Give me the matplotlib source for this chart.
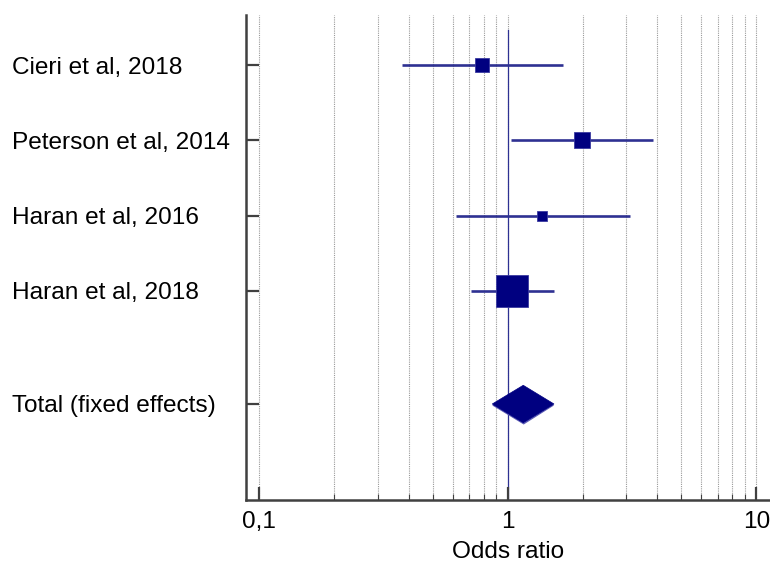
import matplotlib
matplotlib.use("Agg")
import matplotlib.pyplot as plt
import matplotlib.transforms as mtransforms
from matplotlib.patches import Polygon
from matplotlib.ticker import FixedLocator, NullFormatter
import numpy as np

# ---- data ----
studies = ["Cieri et al, 2018", "Peterson et al, 2014", "Haran et al, 2016", "Haran et al, 2018"]
odds_ratio = [0.79, 1.99, 1.37, 1.04]
ci_low = [0.377, 1.034, 0.62, 0.712]
ci_high = [1.67, 3.83, 3.10, 1.54]
weights = [11.3, 15.7, 7.7, 65.3]  # percent weight (marker area)

total_label = "Total (fixed effects)"
total_or = 1.155
total_low = 0.867
total_high = 1.535

xtick_values = [0.1, 1, 10]
xtick_labels = ["0,1", "1", "10"]
xlabel = "Odds ratio"

# ---- style ----
plt.rcParams['font.family'] = ['Liberation Sans', 'DejaVu Sans']
navy = "#000080"
line_col = "#2e3192"
spine_col = "#404040"
fs = 17.6

fig = plt.figure(figsize=(7.70, 5.69), dpi=100)
ax = fig.add_axes([245.5 / 770, 69 / 569, 1 - 245.5 / 770, (569 - 69 - 15) / 569])

rows = [1, 2, 3, 4]
total_row = 5.5

ax.set_xscale("log")
ax.set_xlim(0.0882, 11.35)
ax.set_ylim(6.775, 0.336)

# grid lines at every major/minor decade position
grid_pos = [m * 10.0 ** e for e in (-1, 0) for m in range(1, 10)] + [10]
for g in grid_pos:
    ax.axvline(g, color="#999999", linestyle=(0, (1, 1)), linewidth=0.8, zorder=0)

# line of no effect
ax.axvline(1, ymin=0, ymax=0.969, color=line_col, linewidth=0.9, zorder=1)

# study CIs and squares
k = 3.96 * 0.72  # marker side (pt) per sqrt(weight)
for r, o, lo, hi, w in zip(rows, odds_ratio, ci_low, ci_high, weights):
    ax.plot([lo, hi], [r, r], color=line_col, linewidth=1.9, solid_capstyle="butt", zorder=2)
    ax.plot([o], [r], marker="s", linestyle="none", markersize=k * np.sqrt(w),
            markerfacecolor=navy, markeredgecolor="#3a3aa0", markeredgewidth=0.6, zorder=3)

# diamond for pooled estimate
h = 0.248
shadow = Polygon([(total_low, total_row + 0.02), (total_or, total_row - h + 0.02),
                  (total_high, total_row + 0.02), (total_or * 1.004, total_row + h + 0.025)],
                 closed=True, facecolor="#5a5ab4", edgecolor="none", zorder=2)
ax.add_patch(shadow)
diamond = Polygon([(total_low, total_row), (total_or, total_row - h),
                   (total_high, total_row), (total_or, total_row + h)],
                  closed=True, facecolor=navy, edgecolor=navy, linewidth=0.5, zorder=3)
ax.add_patch(diamond)

# spines
for s in ("top", "right"):
    ax.spines[s].set_visible(False)
for s in ("left", "bottom"):
    ax.spines[s].set_color(spine_col)
    ax.spines[s].set_linewidth(1.8)

# ticks
ax.xaxis.set_major_locator(FixedLocator(xtick_values))
ax.set_xticklabels(xtick_labels)
minor_pos = [m * 10.0 ** e for e in (-1, 0) for m in range(2, 10)]
ax.xaxis.set_minor_locator(FixedLocator(minor_pos))
ax.xaxis.set_minor_formatter(NullFormatter())
ax.tick_params(axis="x", which="major", direction="in", length=9.5, width=1.6,
               color=spine_col, labelsize=fs, pad=8)
ax.tick_params(axis="x", which="minor", direction="in", length=4.5, width=0.8,
               color=spine_col)
ax.set_yticks(rows + [total_row])
ax.set_yticklabels([])
ax.tick_params(axis="y", which="major", direction="in", length=9, width=1.6, color=spine_col)
ax.tick_params(axis="y", which="minor", left=False)

ax.set_xlabel(xlabel, fontsize=fs, labelpad=6)

# row labels
trans = mtransforms.blended_transform_factory(fig.transFigure, ax.transData)
for r, name in zip(rows + [total_row], studies + [total_label]):
    ax.text(12 / 770, r, name, transform=trans, ha="left", va="center_baseline",
            fontsize=fs, color="black", clip_on=False)

fig.savefig("out.png", dpi=100)
